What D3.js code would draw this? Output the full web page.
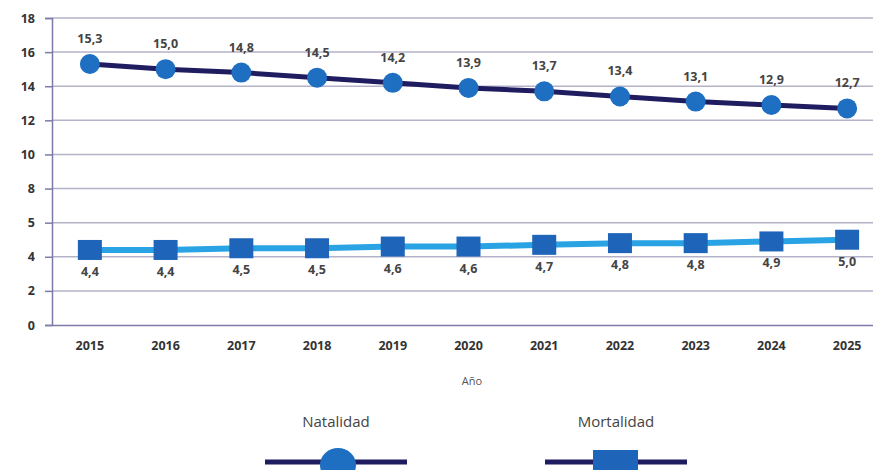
<!DOCTYPE html>
<html>
<head>
<meta charset="utf-8">
<script src="https://cdn.jsdelivr.net/npm/d3@7"></script>
<style>
  body { margin: 0; background: #fff; }
  text { font-family: "Open Sans", "Noto Sans", sans-serif; }
</style>
</head>
<body>
<svg id="chart" width="873" height="470"></svg>
<script>
// Datos
const years = ["2015", "2016", "2017", "2018", "2019", "2020", "2021", "2022", "2023", "2024", "2025"];
const natalidad = [15.3, 15.0, 14.8, 14.5, 14.2, 13.9, 13.7, 13.4, 13.1, 12.9, 12.7];
const mortalidad = [4.4, 4.4, 4.5, 4.5, 4.6, 4.6, 4.7, 4.8, 4.8, 4.9, 5.0];
const yTicks = [0, 2, 4, 6, 8, 10, 12, 14, 16, 18];
const yTickLabels = ["0", "2", "4", "5", "8", "10", "12", "14", "16", "18"]; // tal como aparece
const seriesNames = ["Natalidad", "Mortalidad"];

const svg = d3.select("#chart");
const fmt = v => v.toFixed(1).replace(".", ",");

const x = d3.scaleBand().domain(years).range([52, 885]);
const y = d3.scaleLinear().domain([0, 18]).range([325, 18]);
const cx = d => x(d) + x.bandwidth() / 2;

// Rejilla
svg.append("g")
  .selectAll("line")
  .data(yTicks.slice(1))
  .enter().append("line")
  .attr("x1", 52).attr("x2", 873)
  .attr("y1", d => y(d)).attr("y2", d => y(d))
  .attr("stroke", "#b4b2c8").attr("stroke-width", 1.5);

// Eje Y
const yAxis = svg.append("g")
  .attr("transform", "translate(52,0)")
  .call(d3.axisLeft(y).tickValues(yTicks).tickSize(7).tickPadding(10)
    .tickFormat((d, i) => yTickLabels[i]));
yAxis.select(".domain").attr("stroke", "#7c7aa6").attr("stroke-width", 1.5);
yAxis.selectAll(".tick line").attr("stroke", "#7c7aa6").attr("stroke-width", 1.5);
yAxis.selectAll(".tick text")
  .attr("fill", "#333").attr("font-size", 12.5).attr("font-weight", "bold");

// Eje X
const xAxis = svg.append("g")
  .attr("transform", "translate(0,325)")
  .call(d3.axisBottom(x).tickSize(0).tickPadding(16));
xAxis.select(".domain").attr("stroke", "#7c7aa6").attr("stroke-width", 1.5);
xAxis.selectAll(".tick text")
  .attr("fill", "#333").attr("font-size", 12.5).attr("font-weight", "bold");

svg.append("text")
  .attr("x", 472).attr("y", 385)
  .attr("text-anchor", "middle")
  .attr("font-size", 11).attr("fill", "#555")
  .text("Año");

const line = d3.line().x((d, i) => cx(years[i])).y(d => y(d));

// Mortalidad
svg.append("path")
  .datum(mortalidad)
  .attr("d", line)
  .attr("fill", "none")
  .attr("stroke", "#29a3e3")
  .attr("stroke-width", 6);

svg.append("g")
  .selectAll("rect")
  .data(mortalidad)
  .enter().append("rect")
  .attr("x", (d, i) => cx(years[i]) - 12)
  .attr("y", d => y(d) - 10)
  .attr("width", 24).attr("height", 20)
  .attr("fill", "#1e64b9");

svg.append("g")
  .selectAll("text")
  .data(mortalidad)
  .enter().append("text")
  .attr("x", (d, i) => cx(years[i]))
  .attr("y", d => y(d) + 26)
  .attr("text-anchor", "middle")
  .attr("font-size", 12.5).attr("font-weight", "bold").attr("fill", "#444")
  .text(fmt);

// Natalidad
svg.append("path")
  .datum(natalidad)
  .attr("d", line)
  .attr("fill", "none")
  .attr("stroke", "#201c60")
  .attr("stroke-width", 5);

svg.append("g")
  .selectAll("circle")
  .data(natalidad)
  .enter().append("circle")
  .attr("cx", (d, i) => cx(years[i]))
  .attr("cy", d => y(d))
  .attr("r", 10)
  .attr("fill", "#1e6fc2");

svg.append("g")
  .selectAll("text")
  .data(natalidad)
  .enter().append("text")
  .attr("x", (d, i) => cx(years[i]))
  .attr("y", d => y(d) - 21)
  .attr("text-anchor", "middle")
  .attr("font-size", 12.5).attr("font-weight", "bold").attr("fill", "#444")
  .text(fmt);

// Leyenda
const legend = [
  { name: seriesNames[0], cx: 336, shape: "circle" },
  { name: seriesNames[1], cx: 616, shape: "rect" }
];
legend.forEach(l => {
  const g = svg.append("g");
  g.append("text")
    .attr("x", l.cx).attr("y", 427)
    .attr("text-anchor", "middle")
    .attr("font-size", 15).attr("fill", "#444")
    .text(l.name);
  g.append("line")
    .attr("x1", l.cx - 71).attr("x2", l.cx + 71)
    .attr("y1", 462).attr("y2", 462)
    .attr("stroke", "#201c60").attr("stroke-width", 5);
  if (l.shape === "circle") {
    g.append("ellipse")
      .attr("cx", l.cx + 2).attr("cy", 465)
      .attr("rx", 18).attr("ry", 17)
      .attr("fill", "#1e6fc2");
  } else {
    g.append("rect")
      .attr("x", l.cx - 23).attr("y", 450)
      .attr("width", 45).attr("height", 30)
      .attr("fill", "#1e64b9");
  }
});
</script>
</body>
</html>
